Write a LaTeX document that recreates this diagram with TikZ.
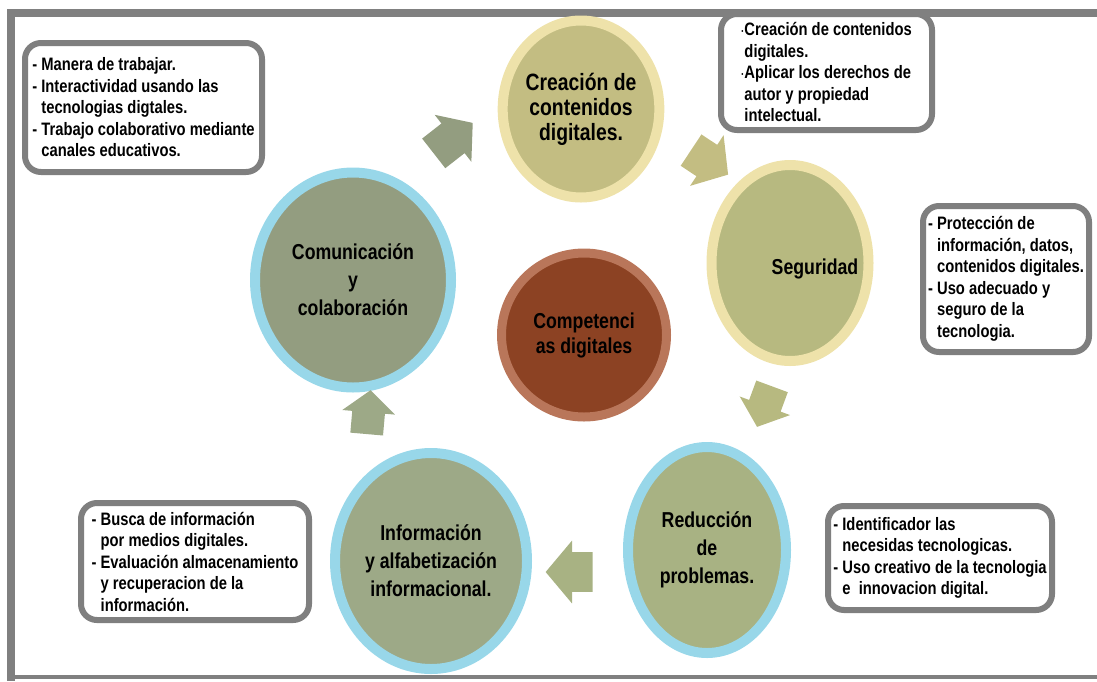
\documentclass[tikz,border=0pt]{standalone}
\usepackage{fontspec}
\setmainfont{Liberation Sans}[FakeStretch=0.82]
\usepackage{tikz}
\usetikzlibrary{shapes.geometric, shapes.arrows, positioning}
\definecolor{frameGrey}{HTML}{808080}
\definecolor{boxGrey}{HTML}{7F7F7F}
\definecolor{ringYellow}{HTML}{EEE2AA}
\definecolor{ringBlue}{HTML}{98D7E9}
\definecolor{fillCreacion}{HTML}{C3BD82}
\definecolor{fillSeguridad}{HTML}{B7B980}
\definecolor{fillReduccion}{HTML}{A8B283}
\definecolor{fillInformacion}{HTML}{9DA987}
\definecolor{fillComunicacion}{HTML}{939D80}
\definecolor{fillCentro}{HTML}{8C4223}
\definecolor{ringCentro}{HTML}{B9765A}
\tikzstyle{circleNode} = [
                ellipse,
                line width = 5pt,
                text centered,
                align = center,
                inner sep = 0pt,
                font = \fontsize{10.8}{14}\selectfont\bfseries
            ]
\tikzstyle{boxNode} = [rectangle, rounded corners=8pt, draw=boxGrey, line width=3pt, fill=white, align=left, inner sep=0pt, font=\fontsize{9}{10.75}\selectfont\bfseries]
\tikzstyle{blockArrow} = [single arrow, single arrow tip angle=100, single arrow head indent=0pt, inner xsep=0pt, draw=none]
\newcommand{\indentLine}{\phantom{- }}
\newcommand{\dotLine}{{\fontsize{6}{6}\selectfont ·}}
\newcommand{\indentDot}{\phantom{\dotLine}}

\begin{document}
\begin{tikzpicture}[x=0.5pt, y=-0.5pt]
                                \useasboundingbox (0,0) rectangle (1097,681);
                                % marco
                                \fill [frameGrey] (7,9) rectangle (1097,17);
                                \fill [frameGrey] (7,9) rectangle (15,681);
                                \fill [frameGrey] (7,675) rectangle (1097,679);
                                % cuadros de texto
                                \node (textoComunicacion) [boxNode, minimum width=118.5pt, minimum height=64.5pt] at (143.5,107.5) {- Manera de trabajar.\\- Interactividad usando las\\\indentLine tecnologias digtales.\\- Trabajo colaborativo mediante\\\indentLine canales educativos.};
                                \node (textoCreacion) [boxNode, minimum width=105.5pt, minimum height=58pt] at (826.5,72) {\dotLine Creación de contenidos\\\indentDot digitales.\\\dotLine Aplicar los derechos de\\\indentDot autor y propiedad\\\indentDot intelectual.};
                                \node (textoSeguridad) [boxNode, minimum width=83pt, minimum height=73pt] at (1006,279) {- Protección de\\\indentLine información, datos,\\\indentLine contenidos digitales.\\- Uso adecuado y\\\indentLine seguro de la\\\indentLine tecnologia.};
                                \node (textoInformacion) [boxNode, minimum width=114pt, minimum height=58.5pt] at (195,561.5) {- Busca de información\\\indentLine por medios digitales.\\- Evaluación almacenamiento\\\indentLine y recuperacion de la\\\indentLine información.};
                                \node (textoReduccion) [boxNode, minimum width=112pt, minimum height=52pt] at (940,558) {- Identificador las\\\indentLine necesidas tecnologicas.\\- Uso creativo de la tecnologia\\\indentLine e\ \ innovacion digital.};
                                \fill [frameGrey] (718,9) rectangle (935,17);
                                % circulos
                                \node (creacion) [circleNode, draw=ringYellow, fill=fillCreacion, minimum width=78pt, minimum height=88.5pt, font=\fontsize{11.8}{12.5}\selectfont\bfseries] at (581,109) {Creación de\\contenidos\\digitales.};
                                \node (seguridad) [circleNode, draw=ringYellow, fill=fillSeguridad, minimum width=78.5pt, minimum height=98pt, label={[xshift=12.5pt, yshift=-3pt, font=\fontsize{10.8}{14}\selectfont\bfseries]center:Seguridad}] at (790,263) {};
                                \node (reduccion) [circleNode, draw=ringBlue, fill=fillReduccion, minimum width=79pt, minimum height=103pt] at (707,550) {Reducción\\de\\problemas.};
                                \node (informacion) [circleNode, draw=ringBlue, fill=fillInformacion, minimum width=96pt, minimum height=108pt] at (431,561) {Información\\y alfabetización\\informacional.};
                                \node (comunicacion) [circleNode, draw=ringBlue, fill=fillComunicacion, minimum width=98pt, minimum height=107.5pt] at (353,280) {Comunicación\\y\\colaboración};
                                \node (centro) [circleNode, draw=ringCentro, fill=fillCentro, line width=4.5pt, minimum width=82.5pt, minimum height=82pt, font=\fontsize{10.8}{12.5}\selectfont\bfseries] at (584,335) {Competenci\\as digitales};
                                % flechas
                                \node (flechaA) [blockArrow, fill=fillComunicacion, minimum height=24.75pt, inner ysep=9.2pt, single arrow head extend=5.5pt, rotate=38] at (447,143) {};
                                \node (flechaB) [blockArrow, fill=fillCreacion, minimum height=22.2pt, inner ysep=9.2pt, single arrow head extend=5.8pt, rotate=-33.5] at (703,158) {};
                                \node (flechaC) [blockArrow, fill=fillSeguridad, minimum height=21.6pt, inner ysep=8.2pt, single arrow head extend=5pt, rotate=249.7] at (767,400) {};
                                \node (flechaD) [blockArrow, fill=fillReduccion, minimum height=23.5pt, inner ysep=9.75pt, single arrow head extend=5.75pt, rotate=180] at (577.5,572) {};
                                \node (flechaE) [blockArrow, fill=fillInformacion, minimum height=22pt, inner ysep=8pt, single arrow head extend=5pt, rotate=85] at (368,419) {};
                            \end{tikzpicture}
\end{document}
